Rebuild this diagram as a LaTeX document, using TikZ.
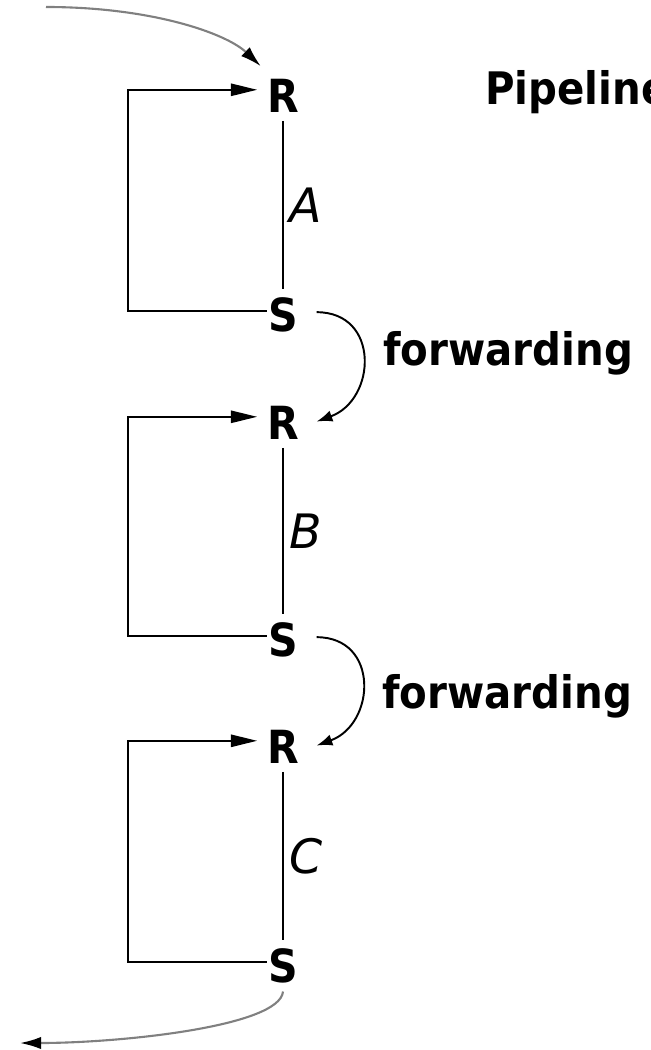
\documentclass[tikz,border=0pt]{standalone}
\usepackage{fontspec}
\setmainfont{DejaVu Sans Condensed}
\newfontfamily\widefont{DejaVu Sans}
\usetikzlibrary{arrows.meta}

\begin{document}
\begin{tikzpicture}[x=0.02cm,y=-0.02cm,
  reg/.style={font=\bfseries\fontsize{26}{30}\selectfont,inner xsep=0.5pt,inner ysep=4.5pt},
  stagelbl/.style={right,font=\widefont\itshape\fontsize{27}{30}\selectfont,inner xsep=3pt},
  bigtxt/.style={anchor=base west,inner sep=0pt,font=\bfseries\fontsize{25.5}{30}\selectfont},
  wire/.style={line width=1.1pt},
  feed/.style={line width=1.1pt,-{Triangle[length=15pt,width=7pt]},shorten >=5pt},
  fwd/.style={line width=1.1pt,-{Latex[length=9pt,width=6.5pt]},shorten <=10pt,shorten >=10pt},
  ext/.style={line width=1.2pt,gray,-{Latex[length=12pt,width=7pt,color=black]}}]
\useasboundingbox (0,0) rectangle (650,1050);
\node[reg] (r1) at (283,96) {R};
\node[reg] (s1) at (283,315) {S};
\node[reg] (r2) at (283,423) {R};
\node[reg] (s2) at (283,640) {S};
\node[reg] (r3) at (283,747) {R};
\node[reg] (s3) at (283,966) {S};
\coordinate (l1) at (128,200);
\coordinate (l2) at (128,525);
\coordinate (l3) at (128,850);
\coordinate (in) at (46,7);
\coordinate (out) at (20,1043);
%
\node[bigtxt] (title) at (485,105) {Pipeline};
\node[bigtxt] (fw1) at (383,365) {forwarding};
\node[bigtxt] (fw2) at (382,708) {forwarding};
%
\draw[wire] (r1) -- node[stagelbl] {A} (s1);
\draw[wire] (r2) -- node[stagelbl] {B} (s2);
\draw[wire] (r3) -- node[stagelbl] {C} (s3);
\draw[feed] (s1.165) -| (l1) |- (r1.160);
\draw[feed] (s2.165) -| (l2) |- (r2.160);
\draw[feed] (s3.165) -| (l3) |- (r3.160);
%
\draw[fwd] (s1.10) to[out=0,in=20,looseness=1.8] (r2.-15);
\draw[fwd] (s2.10) to[out=0,in=20,looseness=1.8] (r3.-15);
\draw[ext,shorten >=4pt] (in) .. controls +(105,0) and +(-40,-38) .. (r1.north west);
\draw[ext] (s3.south) .. controls +(-3,35) and +(100,0) .. (out);
\end{tikzpicture}
\end{document}
